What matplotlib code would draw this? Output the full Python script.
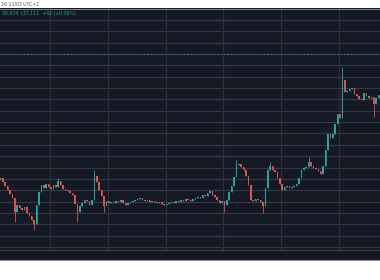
import numpy as np
import matplotlib.pyplot as plt
from matplotlib.patches import Rectangle

# hourly candles, first one starts at day 8 03:00
start_day = 8.125
first_open = 35990
closes = [
    36008, 35973, 35937, 35902, 35867, 35832, 35708, 35770, 35744, 35726,
    35752, 35700, 35673, 35638, 35603, 35770, 35885, 35946, 35920, 35955,
    35929, 35911, 35946, 35929, 35981, 35946, 35911, 35902, 35893, 35876,
    35858, 35779, 35708, 35761, 35788, 35814, 35805, 35770, 35814, 36025,
    35973, 35902, 35849, 35761, 35805, 35788, 35796, 35788, 35805, 35796,
    35814, 35788, 35770, 35788, 35796, 35805, 35814, 35823, 35832, 35814,
    35805, 35814, 35796, 35805, 35796, 35788, 35796, 35779, 35770, 35779,
    35788, 35796, 35788, 35805, 35796, 35814, 35805, 35823, 35814, 35805,
    35823, 35832, 35840, 35832, 35858, 35849, 35876, 35893, 35858, 35840,
    35814, 35788, 35805, 35770, 35814, 35885, 35937, 36017, 36122, 36131,
    36105, 36078, 36025, 35946, 35814, 35805, 35823, 35814, 35796, 35761,
    35920, 36078, 36113, 36078, 36061, 36008, 35955, 35902, 35929, 35937,
    35920, 35929, 35937, 35955, 36008, 36078, 36096, 36105, 36149, 36113,
    36096, 36087, 36069, 36043, 36113, 36254, 36395, 36360, 36395, 36484,
    36572, 36536, 36871, 36766, 36774, 36792, 36801, 36748, 36730, 36704,
    36695, 36757, 36730, 36713, 36721, 36660, 36713, 36739, 37100,
]
# candles with long wicks: index -> (high, low)
wick_high = {24: 36008, 39: 36078, 98: 36166, 112: 36149, 128: 36193, 142: 36986}
wick_low = {6: 35620, 14: 35550, 32: 35620, 43: 35708, 93: 35708, 109: 35700, 155: 36545}

day_ticks = [9, 10, 11, 12, 13, 14]
legend_text = "36,974  (37,111  +42 (+0.06%)"
header_text = "26 11/03 UTC+2"

BG = "#151924"
GRID = "#343844"
UP = "#26a69a"
DOWN = "#d9534f"

closes = np.array(closes, dtype=float)
opens = np.concatenate([[first_open], closes[:-1]])
highs = np.maximum(opens, closes)
lows = np.minimum(opens, closes)
for k, v in wick_high.items():
    highs[k] = max(highs[k], v)
for k, v in wick_low.items():
    lows[k] = min(lows[k], v)
t = start_day + np.arange(len(closes)) / 24.0 + 0.4 / 24.0

fig = plt.figure(figsize=(3.8, 2.8), dpi=100)
fig.patch.set_facecolor("white")
W, H = 380, 280

# dark time-axis strip under the plot
fig.patches.append(Rectangle((0, 20 / H), 1, 10 / H, transform=fig.transFigure,
                             facecolor="#131722", edgecolor="none", zorder=0))
fig.add_artist(plt.Line2D([0, 1], [30 / H, 30 / H], transform=fig.transFigure,
                          color="#3a3e49", lw=0.8))
fig.add_artist(plt.Line2D([0, 1], [20 / H, 20 / H], transform=fig.transFigure,
                          color="#8a8d94", lw=0.8))
fig.add_artist(plt.Line2D([0, 1], [271.5 / H, 271.5 / H], transform=fig.transFigure,
                          color="#9a9a9a", lw=0.6))

ax = fig.add_axes([0, 30 / H, 1, 242 / H])
ax.set_facecolor(BG)
ax.set_xlim(8.135, 14.709)
ax.set_ylim(35373.5, 37505.5)

for y in np.arange(35400, 37401, 100):
    ax.axhline(y, color=GRID, lw=0.9, zorder=1)
for d in day_ticks:
    ax.axvline(d, color="#2c303b", lw=0.8, zorder=1)

up = closes >= opens
cols = np.where(up, UP, DOWN)
ax.vlines(t, lows, highs, colors=cols, lw=0.6, zorder=3)
body = np.abs(closes - opens)
body = np.maximum(body, 4)
ax.bar(t, body, bottom=np.minimum(opens, closes), width=0.65 / 24,
       color=cols, edgecolor="none", zorder=4)

# last price line
ax.axhline(closes[-1], color=UP, lw=0.6, ls=(0, (2, 2)), alpha=0.7, zorder=2)

ax.set_yticks([])
ax.set_xticks(day_ticks)
ax.set_xticklabels([str(d) for d in day_ticks])
ax.tick_params(axis="x", length=0, pad=2.5, labelsize=3.5, colors="#5d616c")
for s in ax.spines.values():
    s.set_visible(False)

fig.text(2 / W, 1 - 13 / H, legend_text, color=UP, fontsize=3.3,
         ha="left", va="center")
fig.text(1 / W, 1 - 4 / H, header_text, color="#555555", fontsize=3.3,
         ha="left", va="center")

fig.savefig("out.png", dpi=100, facecolor="white")
